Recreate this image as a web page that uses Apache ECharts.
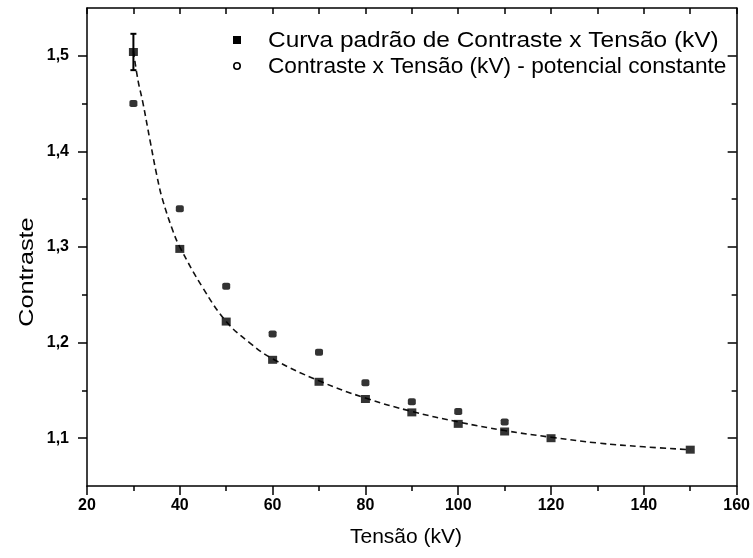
<!DOCTYPE html>
<html>
<head>
<meta charset="utf-8">
<script src="https://cdn.jsdelivr.net/npm/echarts@6/dist/echarts.min.js"></script>
<style>
html,body{margin:0;padding:0;background:#fff;}
#chart{width:753px;height:558px;}
</style>
</head>
<body>
<div id="chart"></div>
<script>
// ---- data ----
var tensaoPadrao = [30, 40, 50, 60, 70, 80, 90, 100, 110, 120, 150];
var contrastePadrao = [1.504, 1.298, 1.222, 1.182, 1.159, 1.141, 1.127, 1.115, 1.107, 1.100, 1.088];
var tensaoConst = [30, 40, 50, 60, 70, 80, 90, 100, 110];
var contrasteConst = [1.450, 1.340, 1.259, 1.209, 1.190, 1.158, 1.138, 1.128, 1.117];
var fitX = [30, 31, 32, 33.6, 35, 36.2, 38.5, 40, 45, 50, 55, 60, 70, 80, 90, 100, 110, 120, 130, 140, 150];
var fitY = [1.505, 1.474, 1.452, 1.411, 1.376, 1.351, 1.317, 1.300, 1.257, 1.222, 1.200, 1.183, 1.160, 1.142, 1.128, 1.117, 1.108, 1.101, 1.095, 1.091, 1.088];
var errX = [30];
var errLow = [1.485];
var errHigh = [1.523];
var yMajorTicks = [1.1, 1.2, 1.3, 1.4, 1.5];
var yMinorTicks = [1.15, 1.25, 1.35, 1.45];
var legendNames = ['Curva padrão de Contraste x Tensão (kV)', 'Contraste x Tensão (kV) - potencial constante'];
var xTitle = 'Tensão (kV)';
var yTitle = 'Contraste';

function zip(a, b) { return a.map(function (v, i) { return [v, b[i]]; }); }
var FONT = '"Liberation Sans", Arial, sans-serif';
var chart = echarts.init(document.getElementById('chart'), null, {renderer: 'canvas'});
var lineStyle = {color: '#000', width: 1.5};

var option = {
  animation: false,
  backgroundColor: '#fff',
  grid: {left: 87, right: 16, top: 8, bottom: 72, containLabel: false},
  xAxis: [
    {type: 'value', position: 'bottom', min: 20, max: 160, interval: 20,
     axisLine: {show: true, onZero: false, lineStyle: lineStyle},
     axisTick: {show: true, inside: false, length: 9, lineStyle: lineStyle},
     minorTick: {show: true, splitNumber: 2, length: 5, lineStyle: lineStyle},
     axisLabel: {color: '#000', fontFamily: FONT, fontWeight: 'bold', fontSize: 16, margin: 12},
     splitLine: {show: false}},
    {type: 'value', position: 'top', min: 20, max: 160, interval: 10,
     axisLine: {show: true, onZero: false, lineStyle: lineStyle},
     axisTick: {show: true, inside: true, length: 6, lineStyle: lineStyle},
     axisLabel: {show: false}, splitLine: {show: false}}
  ],
  yAxis: [
    {type: 'value', position: 'left', min: 1.05, max: 1.55,
     axisLine: {show: true, onZero: false, lineStyle: lineStyle},
     axisTick: {show: true, inside: false, length: 9, customValues: yMajorTicks, lineStyle: lineStyle},
     axisLabel: {show: true, customValues: yMajorTicks, color: '#000', fontFamily: FONT, fontWeight: 'bold', fontSize: 16, margin: 18,
       formatter: function (v) { return v.toFixed(1).replace('.', ','); }},
     splitLine: {show: false}},
    {type: 'value', position: 'left', min: 1.05, max: 1.55,
     axisLine: {show: false},
     axisTick: {show: true, inside: false, length: 5, customValues: yMinorTicks, lineStyle: lineStyle},
     axisLabel: {show: false}, splitLine: {show: false}},
    {type: 'value', position: 'right', min: 1.05, max: 1.55,
     axisLine: {show: true, onZero: false, lineStyle: lineStyle},
     axisTick: {show: true, inside: true, length: 9, customValues: yMajorTicks, lineStyle: lineStyle},
     axisLabel: {show: false}, splitLine: {show: false}},
    {type: 'value', position: 'right', min: 1.05, max: 1.55,
     axisLine: {show: false},
     axisTick: {show: true, inside: true, length: 5, customValues: yMinorTicks, lineStyle: lineStyle},
     axisLabel: {show: false}, splitLine: {show: false}}
  ],
  series: [
    {name: 'ajuste', type: 'line', xAxisIndex: 0, yAxisIndex: 0, data: zip(fitX, fitY),
     smooth: 0.4, showSymbol: false, symbol: 'none',
     lineStyle: {color: '#111', width: 1.6, type: [6, 4]}, z: 1},
    {name: legendNames[0], type: 'scatter', xAxisIndex: 0, yAxisIndex: 0, data: zip(tensaoPadrao, contrastePadrao),
     symbol: 'rect', symbolSize: [9, 8], itemStyle: {color: '#000'}, z: 3},
    {name: legendNames[1], type: 'scatter', xAxisIndex: 0, yAxisIndex: 0, data: zip(tensaoConst, contrasteConst),
     symbol: 'roundRect', symbolSize: [8, 7], itemStyle: {color: '#000'}, z: 3},
    {name: 'erro', type: 'custom', xAxisIndex: 0, yAxisIndex: 0,
     data: errX.map(function (x, i) { return [x, errLow[i], errHigh[i]]; }),
     renderItem: function (params, api) {
       var lo = api.coord([api.value(0), api.value(1)]);
       var hi = api.coord([api.value(0), api.value(2)]);
       var c = 3;
       var st = {stroke: '#000', lineWidth: 2};
       return {type: 'group', children: [
         {type: 'line', shape: {x1: hi[0], y1: hi[1], x2: lo[0], y2: lo[1]}, style: st},
         {type: 'line', shape: {x1: hi[0] - c, y1: hi[1], x2: hi[0] + c, y2: hi[1]}, style: st},
         {type: 'line', shape: {x1: lo[0] - c, y1: lo[1], x2: lo[0] + c, y2: lo[1]}, style: st}
       ]};
     }, z: 2}
  ],
  graphic: [
    {type: 'rect', left: 233, top: 36, shape: {width: 8, height: 8}, style: {fill: '#000'}},
    {type: 'circle', shape: {cx: 237, cy: 66, r: 3.2}, style: {fill: '#fff', stroke: '#000', lineWidth: 1.6}},
    {type: 'text', x: 268, y: 41, scaleX: 1.11, style: {text: legendNames[0], fontFamily: FONT, fontSize: 22, fill: '#000', verticalAlign: 'middle', align: 'left'}},
    {type: 'text', x: 268, y: 67, scaleX: 1.03, style: {text: legendNames[1], fontFamily: FONT, fontSize: 22, fill: '#000', verticalAlign: 'middle', align: 'left'}},
    {type: 'text', x: 406, y: 537, scaleX: 1.0, style: {text: xTitle, fontFamily: FONT, fontSize: 21, fill: '#000', align: 'center', verticalAlign: 'middle'}},
    {type: 'text', x: 27, y: 272, rotation: Math.PI / 2, scaleX: 1.2, style: {text: yTitle, fontFamily: FONT, fontSize: 21, fill: '#000', align: 'center', verticalAlign: 'middle'}}
  ]
};
chart.setOption(option);
</script>
</body>
</html>
